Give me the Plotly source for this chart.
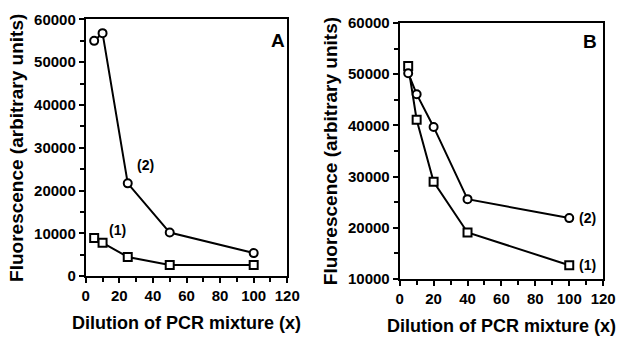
import plotly.graph_objects as go
from plotly.subplots import make_subplots

# Panel A data
a_x_sq = [5, 10, 25, 50, 100]
a_y_sq = [8900, 7800, 4500, 2600, 2600]
a_x_ci = [5, 10, 25, 50, 100]
a_y_ci = [55000, 56800, 21700, 10200, 5400]

# Panel B data
b_x_sq = [5, 10, 20, 40, 100]
b_y_sq = [51600, 41100, 29000, 19100, 12700]
b_x_ci = [5, 10, 20, 40, 100]
b_y_ci = [50200, 46100, 39700, 25600, 21900]

x_title = "Dilution of PCR mixture (x)"
y_title = "Fluorescence (arbitrary units)"

FONT = "Liberation Sans, Arial, sans-serif"

W, H = 640, 346


def px_x(p):
    return p / W


def px_y(p):
    return 1 - p / H


fig = make_subplots(rows=1, cols=2)

line = dict(color="black", width=2)
sq = dict(symbol="square", size=8, color="white", line=dict(width=2, color="black"))
ci = dict(symbol="circle", size=8, color="white", line=dict(width=2, color="black"))

for xs, ys, mk, c in [(a_x_sq, a_y_sq, sq, 1), (a_x_ci, a_y_ci, ci, 1),
                      (b_x_sq, b_y_sq, sq, 2), (b_x_ci, b_y_ci, ci, 2)]:
    fig.add_trace(go.Scatter(x=xs, y=ys, mode="lines", line=line, showlegend=False,
                             hoverinfo="skip"), row=1, col=c)
    fig.add_trace(go.Scatter(x=xs, y=ys, mode="markers", marker=mk, showlegend=False),
                  row=1, col=c)

axis_common = dict(
    showline=True, linecolor="black", linewidth=2, mirror=True,
    showgrid=False, zeroline=False, ticklabeloverflow="allow",
    ticks="outside", ticklen=5, tickwidth=1.5, tickcolor="black",
    tickfont=dict(family=FONT, size=15, color="black", weight="bold"),
)

fig.update_xaxes(**axis_common, range=[0, 120], dtick=20, tickformat="d",
                 minor=dict(dtick=10, ticklen=4, ticks="outside", tickcolor="black", tickwidth=1.5),
                 title_text=x_title, title_standoff=13,
                 title_font=dict(family=FONT, size=18, color="black", weight="bold"))
fig.update_yaxes(**axis_common, dtick=10000, tickformat="d",
                 minor=dict(dtick=5000, ticklen=4, ticks="outside", tickcolor="black", tickwidth=1.5),
                 title_text=y_title, title_standoff=5,
                 title_font=dict(family=FONT, size=19, color="black", weight="bold"))

fig.update_xaxes(domain=[px_x(84), px_x(291)], row=1, col=1)
fig.update_yaxes(domain=[px_y(281), px_y(11)], range=[0, 60000], row=1, col=1)
fig.update_xaxes(domain=[px_x(406.5), px_x(615.5)], row=1, col=2)
fig.update_yaxes(domain=[px_y(284), px_y(14.7)], range=[10000, 60000], row=1, col=2)

ann_font = dict(family=FONT, size=14, color="black", weight="bold")
annotations = [
    dict(x=35.5, y=26000, xref="x", yref="y", text="(2)", showarrow=False, font=ann_font),
    dict(x=19, y=10900, xref="x", yref="y", text="(1)", showarrow=False, font=ann_font),
    dict(x=114.5, y=55100, xref="x", yref="y", text="A", showarrow=False,
         font=dict(family=FONT, size=19, color="black", weight="bold")),
    dict(x=110.5, y=21900, xref="x2", yref="y2", text="(2)", showarrow=False, font=ann_font),
    dict(x=110.5, y=12700, xref="x2", yref="y2", text="(1)", showarrow=False, font=ann_font),
    dict(x=112, y=56300, xref="x2", yref="y2", text="B", showarrow=False,
         font=dict(family=FONT, size=19, color="black", weight="bold")),
]
fig.update_layout(
    width=W, height=H,
    margin=dict(l=0, r=0, t=0, b=0),
    paper_bgcolor="white", plot_bgcolor="white",
    annotations=annotations,
)

fig.write_html("out.html", config={"displayModeBar": False},
               post_script="document.body.style.margin='0';")
